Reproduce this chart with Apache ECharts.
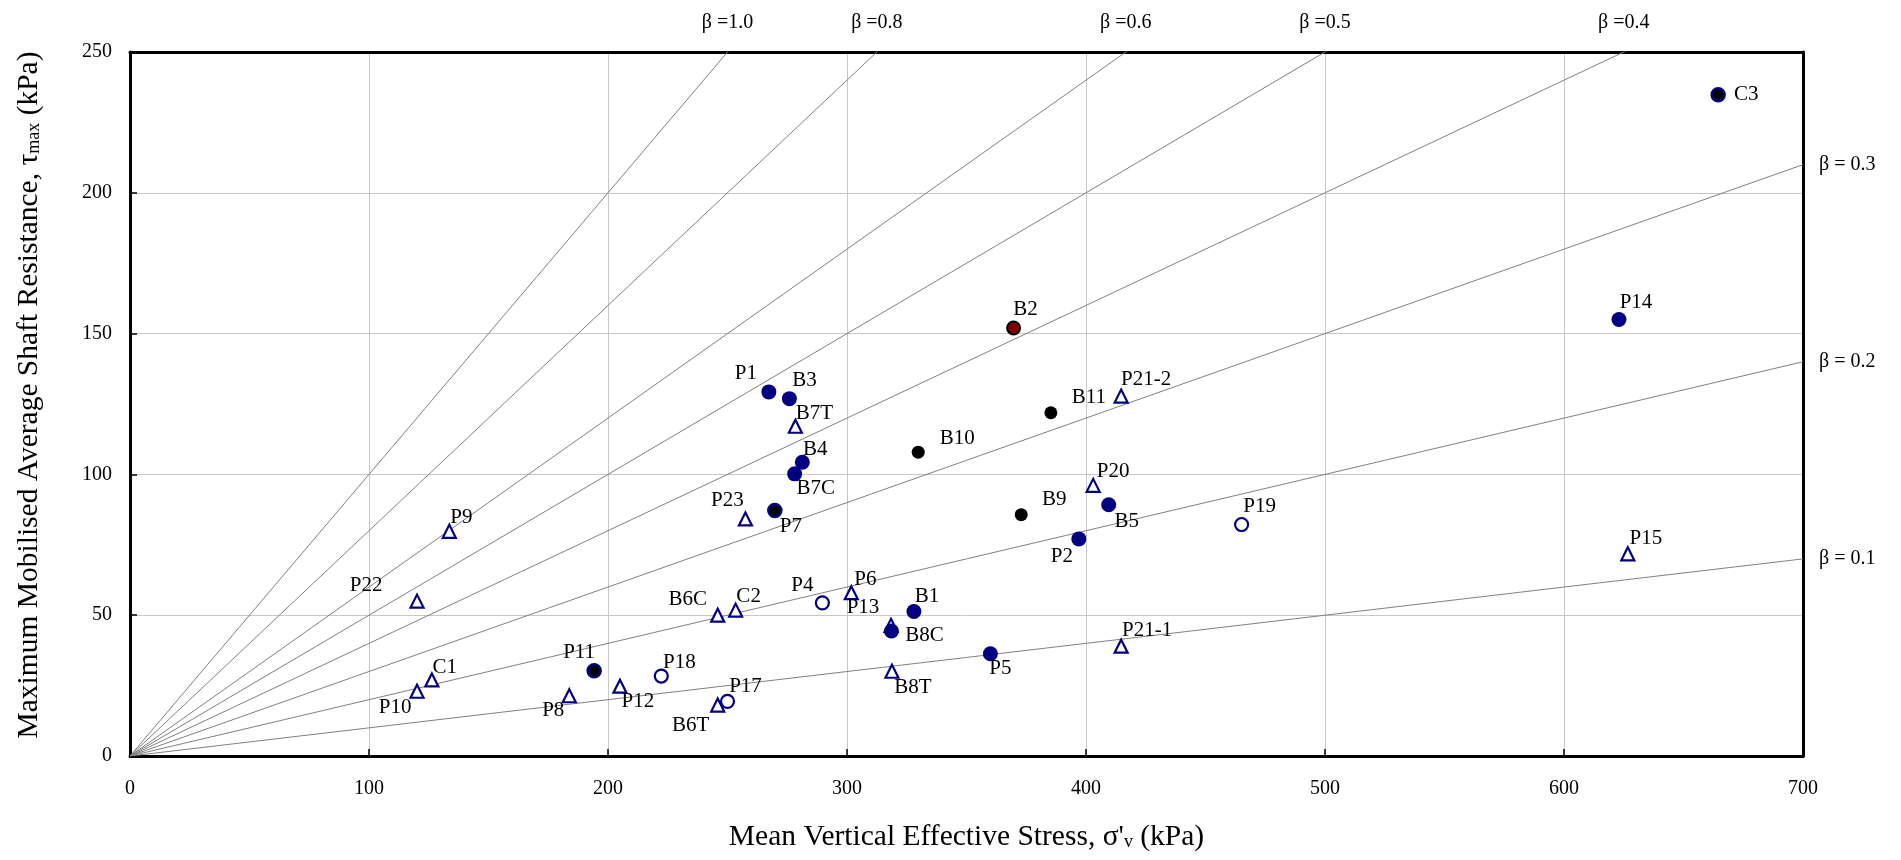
<!DOCTYPE html>
<html><head><meta charset="utf-8">
<script src="https://cdn.jsdelivr.net/npm/echarts@6/dist/echarts.min.js"></script>
<style>html,body{margin:0;padding:0;background:#fff}#c{width:1901px;height:860px}</style>
</head><body><div id="c"></div><script>
// ---------------- DATA ----------------
const xTicks = [0, 100, 200, 300, 400, 500, 600, 700];
const yTicks = [0, 50, 100, 150, 200, 250];

const solidNavyNames = ['P1','B3','B4','B7C','B5','P2','B1','B8C','P5','P14'];
const solidNavyX     = [267.3, 275.9, 281.3, 278.1, 409.5, 397.0, 328.0, 318.6, 360.0, 623.0];
const solidNavyY     = [129.3, 126.9, 104.3, 100.2,  89.2,  77.1,  51.3,  44.4,  36.3, 155.0];

const blackNavyNames = ['C3','P7','P11'];
const blackNavyX     = [664.5, 269.8, 194.2];
const blackNavyY     = [234.8,  87.2,  30.3];

const blackNames = ['B11','B10','B9'];
const blackX     = [385.3, 329.8, 372.9];
const blackY     = [121.9, 107.9,  85.7];

const redNames = ['B2'];
const redX     = [369.7];
const redY     = [152.0];

const triNames = ['B7T','P21-2','P23','P9','P22','P20','P6','C2','B6C','C1','P10','P8','P12','B6T','B8T','P21-1','P15','P13'];
const triX     = [278.4, 414.7, 257.5, 133.6, 120.1, 403.0, 301.8, 253.4, 245.9, 126.3, 120.1, 183.8, 205.0, 245.9, 318.8, 414.7, 626.7, 318.4];
const triY     = [117.1, 127.8,  84.2,  79.8,  55.0,  96.1,  58.0,  51.8,  50.0,  27.0,  23.0,  21.4,  24.8,  18.1,  30.1,  39.0,  71.8,  46.4];

const openNames = ['P19','P4','P18','P17'];
const openX     = [465.1, 289.7, 222.3, 250.0];
const openY     = [ 82.2,  54.4,  28.4,  19.4];

const betaTop      = [1.0, 0.8, 0.6, 0.5, 0.4];
const betaTopText  = ['β =1.0', 'β =0.8', 'β =0.6', 'β =0.5', 'β =0.4'];
const betaRight     = [0.3, 0.2, 0.1];
const betaRightText = ['β = 0.3', 'β = 0.2', 'β = 0.1'];

// ---------------- LAYOUT ----------------
const labelOffset = {
  'P1':[-23,-18],'B3':[15,-18],'B4':[13,-13],'B7C':[21,15],'B5':[18,17],'P2':[-17,18],
  'B1':[13,-15],'B8C':[33,5],'P5':[10,15],'P14':[17,-17],
  'C3':[28,0],'P7':[16,16],'P11':[-15,-18],
  'B11':[38,-15],'B10':[39,-14],'B9':[33,-15],
  'B2':[12,-18],
  'B7T':[19,-13],'P21-2':[25,-17],'P23':[-18,-18],'P9':[12,-14],'P22':[-51,-16],'P20':[20,-14],
  'P6':[14,-13],'C2':[13,-14],'B6C':[-30,-16],'C1':[13,-12],'P10':[-22,16],'P8':[-16,15],
  'P12':[18,15],'B6T':[-27,20],'B8T':[21,16],'P21-1':[26,-16],'P15':[18,-15],'P13':[-28,-18],
  'P19':[18,-18],'P4':[-20,-17],'P18':[18,-14],'P17':[18,-15]
};
const FONT = "'Liberation Serif', 'Times New Roman', serif";
const NAVY = '#000080';

function pts(names, xs, ys) {
  return names.map((n, i) => ({ name: n, value: [xs[i], ys[i]], label: { offset: labelOffset[n] || [0, 0] } }));
}
const ptLabel = { show: true, position: 'inside', formatter: '{b}', color: '#000', opacity: 1, fontFamily: FONT, fontSize: 21 };

const series = [];
// beta lines
betaTop.concat(betaRight).forEach(b => {
  series.push({
    type: 'line', data: [[0, 0], [700, 700 * b]], clip: true, showSymbol: false, silent: true,
    lineStyle: { color: '#808080', width: 1, opacity: 1 }, z: 2
  });
});
// beta labels
series.push({
  type: 'scatter', symbolSize: 0, silent: true, clip: false, z: 3,
  itemStyle: { opacity: 1 },
  data: betaTop.map((b, i) => ({ name: betaTopText[i], value: [250 / b, 250] })),
  label: { show: true, position: 'top', distance: 19, formatter: '{b}', color: '#000', fontFamily: FONT, fontSize: 20 }
});
series.push({
  type: 'scatter', symbolSize: 0, silent: true, clip: false, z: 3,
  itemStyle: { opacity: 1 },
  data: betaRight.map((b, i) => ({ name: betaRightText[i], value: [700, 700 * b] })),
  label: { show: true, position: 'right', distance: 16, formatter: '{b}', color: '#000', fontFamily: FONT, fontSize: 20 }
});
// points
series.push({ type: 'scatter', symbol: 'triangle', symbolSize: [13, 13], z: 5, clip: false,
  itemStyle: { color: '#fff', borderColor: NAVY, borderWidth: 2.2, opacity: 1 }, label: ptLabel, data: pts(triNames, triX, triY) });
series.push({ type: 'scatter', symbol: 'circle', symbolSize: 13, z: 5, clip: false,
  itemStyle: { color: '#fff', borderColor: NAVY, borderWidth: 2.2, opacity: 1 }, label: ptLabel, data: pts(openNames, openX, openY) });
series.push({ type: 'scatter', symbol: 'circle', symbolSize: 15, z: 6, clip: false,
  itemStyle: { color: NAVY, opacity: 1 }, label: ptLabel, data: pts(solidNavyNames, solidNavyX, solidNavyY) });
series.push({ type: 'scatter', symbol: 'circle', symbolSize: 13, z: 6, clip: false,
  itemStyle: { color: '#000', borderColor: NAVY, borderWidth: 2.5, opacity: 1 }, label: ptLabel, data: pts(blackNavyNames, blackNavyX, blackNavyY) });
series.push({ type: 'scatter', symbol: 'circle', symbolSize: 13, z: 6, clip: false,
  itemStyle: { color: '#000', opacity: 1 }, label: ptLabel, data: pts(blackNames, blackX, blackY) });
series.push({ type: 'scatter', symbol: 'circle', symbolSize: 13, z: 6, clip: false,
  itemStyle: { color: '#800000', borderColor: '#000', borderWidth: 2, opacity: 1 }, label: ptLabel, data: pts(redNames, redX, redY) });

const chart = echarts.init(document.getElementById('c'), null, { renderer: 'canvas' });
chart.setOption({
  animation: false,
  backgroundColor: '#fff',
  grid: { left: 130, right: 98, top: 52, bottom: 104, show: false },
  xAxis: [{
    type: 'value', min: xTicks[0], max: xTicks[xTicks.length - 1], interval: 100,
    name: "Mean Vertical Effective Stress, σ'{sub|v} (kPa)", nameLocation: 'middle', nameGap: 66,
    nameTextStyle: { fontFamily: FONT, fontSize: 29.5, color: '#000',
      rich: { sub: { fontFamily: FONT, fontSize: 18, color: '#000', padding: [11, 0, 0, 0] } } },
    axisLine: { show: true, onZero: false, lineStyle: { color: '#000', width: 3 } },
    axisTick: { show: true, inside: true, length: 7, lineStyle: { color: '#000', width: 1.5 } },
    axisLabel: { fontFamily: FONT, fontSize: 20, color: '#000', margin: 23 },
    splitLine: { show: true, lineStyle: { color: '#c8c8c8', width: 1 } }
  }, {
    type: 'value', position: 'top', min: 0, max: 700, interval: 100,
    axisLine: { show: true, onZero: false, lineStyle: { color: '#000', width: 3 } },
    axisTick: { show: false }, axisLabel: { show: false }, splitLine: { show: false }
  }],
  yAxis: [{
    type: 'value', min: yTicks[0], max: yTicks[yTicks.length - 1], interval: 50,
    name: 'Maximum Mobilised Average Shaft Resistance, τ{sub|max} (kPa)', nameLocation: 'middle', nameGap: 86,
    nameRotate: 90,
    nameTextStyle: { fontFamily: FONT, fontSize: 29.5, color: '#000', padding: [0, 0, 0, 18],
      rich: { sub: { fontFamily: FONT, fontSize: 18, color: '#000', padding: [11, 0, 0, 0] } } },
    axisLine: { show: true, onZero: false, lineStyle: { color: '#000', width: 3 } },
    axisTick: { show: true, inside: true, length: 7, lineStyle: { color: '#000', width: 1.5 } },
    axisLabel: { fontFamily: FONT, fontSize: 20, color: '#000', margin: 18 },
    splitLine: { show: true, lineStyle: { color: '#c8c8c8', width: 1 } }
  }, {
    type: 'value', position: 'right', min: 0, max: 250, interval: 50,
    axisLine: { show: true, onZero: false, lineStyle: { color: '#000', width: 3 } },
    axisTick: { show: false }, axisLabel: { show: false }, splitLine: { show: false }
  }],
  series: series
});
</script></body></html>
